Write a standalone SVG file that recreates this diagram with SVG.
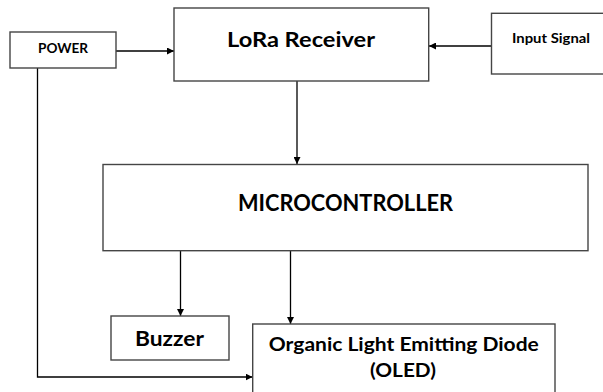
<svg xmlns="http://www.w3.org/2000/svg" width="603" height="392" viewBox="0 0 603 392">
<style>
.box{fill:#fff;stroke:#454545;stroke-width:1.4}
.ln{fill:none;stroke:#000;stroke-width:1.3}
text{font-family:Lato,"Open Sans","Liberation Sans",sans-serif;font-weight:bold;fill:#000;text-anchor:middle}
</style>
<defs>
<marker id="ah" viewBox="0 0 10 10" refX="10" refY="5" markerWidth="7" markerHeight="7" markerUnits="userSpaceOnUse" orient="auto">
<path d="M0,0 L10,5 L0,10 z" fill="#000"/>
</marker>
</defs>
<rect width="603" height="392" fill="#fff"/>
<g id="connectors">
<line class="ln" x1="116" y1="51" x2="174" y2="51" marker-end="url(#ah)"/>
<line class="ln" x1="491.5" y1="46" x2="429" y2="46" marker-end="url(#ah)"/>
<line class="ln" x1="297" y1="81" x2="297" y2="164" marker-end="url(#ah)"/>
<line class="ln" x1="180.5" y1="251" x2="180.5" y2="316" marker-end="url(#ah)"/>
<line class="ln" x1="290.5" y1="251" x2="290.5" y2="324" marker-end="url(#ah)"/>
<polyline class="ln" points="37.5,68 37.5,377 252.5,377" marker-end="url(#ah)"/>
</g>
<g id="power">
<rect class="box" x="10" y="32" width="106" height="36"/>
<text x="63" y="52.7" font-size="13" textLength="50" lengthAdjust="spacingAndGlyphs">POWER</text>
</g>
<g id="lora">
<rect class="box" x="174" y="8" width="254.7" height="73"/>
<text x="301" y="46.7" font-size="21" textLength="148" lengthAdjust="spacingAndGlyphs">LoRa Receiver</text>
</g>
<g id="input">
<rect class="box" x="491.5" y="13.3" width="120" height="60.7"/>
<text x="551" y="43" font-size="14" textLength="78" lengthAdjust="spacingAndGlyphs">Input Signal</text>
</g>
<g id="micro">
<rect class="box" x="103" y="164.5" width="485" height="86.2"/>
<text x="345.5" y="211" font-size="23" textLength="215" lengthAdjust="spacingAndGlyphs">MICROCONTROLLER</text>
</g>
<g id="buzzer">
<rect class="box" x="111" y="316" width="118" height="44"/>
<text x="169.5" y="346" font-size="20" textLength="69" lengthAdjust="spacingAndGlyphs">Buzzer</text>
</g>
<g id="oled">
<rect class="box" x="252.7" y="324" width="302.3" height="80"/>
<text x="403.8" y="350.5" font-size="19" textLength="270" lengthAdjust="spacingAndGlyphs">Organic Light Emitting Diode</text>
<text x="403" y="377" font-size="19" textLength="66" lengthAdjust="spacingAndGlyphs">(OLED)</text>
</g>
</svg>
